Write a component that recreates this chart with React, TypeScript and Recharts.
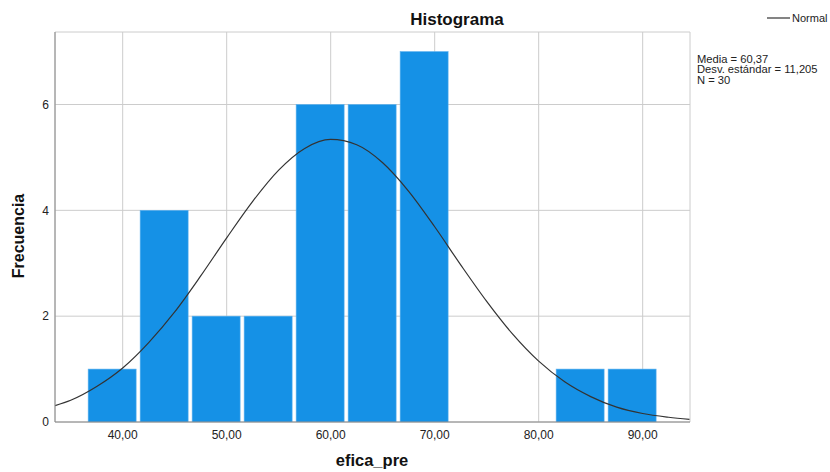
import { ComposedChart, Bar, Line, XAxis, YAxis, CartesianGrid } from 'recharts';

// histogram bins (centre of each 5-unit bin) and their counts
const binCenters = [39, 44, 49, 54, 59, 64, 69, 74, 79, 84, 89];
const counts = [1, 4, 2, 2, 6, 6, 7, 0, 0, 1, 1];

// normal curve
const curveX = [33.5, 35, 37.5, 40, 42.5, 45, 47.5, 50, 52.5, 55, 57.5, 60, 62.5, 65, 67.5, 70, 72.5, 75, 77.5, 80, 82.5, 85, 87.5, 90, 92.5, 94.5];
const curveY = [0.31, 0.41, 0.67, 1.02, 1.5, 2.08, 2.76, 3.48, 4.17, 4.76, 5.17, 5.34, 5.24, 4.9, 4.36, 3.69, 2.97, 2.28, 1.66, 1.15, 0.76, 0.48, 0.28, 0.16, 0.09, 0.05];

const xTicks = [40, 50, 60, 70, 80, 90];
const yTicks = [0, 2, 4, 6];
const statLines = ['Media = 60,37', 'Desv. estándar = 11,205', 'N = 30'];

const bars = binCenters.map((x, i) => ({ x, count: counts[i] }));
const curve = curveX.map((x, i) => ({ x, y: curveY[i] }));

const font = '"Liberation Sans", Arial, sans-serif';
const fmt = (v: number) => v.toFixed(2).replace('.', ',');
const BAR_W = 48;

// recharts squeezes bars on a numeric axis, so draw a fixed-width rect around the bar centre
const HistBar = (props: any) => {
  const { x, y, width, height } = props;
  if (!height || height <= 0) return null;
  const cx = x + width / 2;
  return <rect x={cx - BAR_W / 2} y={y} width={BAR_W} height={height} fill="#1591e6" stroke="#5fb2ee" strokeWidth={0.6} />;
};

const App = () => (
  <div style={{ position: 'absolute', left: 0, top: 0, width: 830, height: 472, fontFamily: font, background: '#fff' }}>
    <ComposedChart width={830} height={472} data={bars} margin={{ top: 32, right: 140, bottom: 20, left: 25 }}>
      <CartesianGrid stroke="#cccccc" strokeWidth={1} />
      <XAxis
        dataKey="x"
        type="number"
        domain={[33.49, 94.55]}
        allowDataOverflow
        ticks={xTicks}
        tickFormatter={fmt}
        height={30}
        tickLine={false}
        axisLine={{ stroke: '#888888' }}
        tick={{ fontSize: 12, fill: '#222', fontFamily: font }}
      />
      <YAxis
        type="number"
        domain={[0, 7.37]}
        allowDataOverflow
        ticks={yTicks}
        width={30}
        tickSize={4}
        tickMargin={2}
        tickLine={false}
        axisLine={{ stroke: '#888888' }}
        tick={{ fontSize: 12, fill: '#222', fontFamily: font }}
      />
      <Bar dataKey="count" fill="#1591e6" shape={HistBar} isAnimationActive={false} />
      <Line data={curve} dataKey="y" type="monotone" stroke="#333333" strokeWidth={1.2} dot={false} isAnimationActive={false} />
    </ComposedChart>
    <svg width={830} height={472} style={{ position: 'absolute', left: 0, top: 0, pointerEvents: 'none' }} fontFamily={font}>
      <text x={457} y={25} textAnchor="middle" fontSize={17} fontWeight="bold" fill="#111">Histograma</text>
      <line x1={767} y1={18} x2={790} y2={18} stroke="#333" strokeWidth={1.2} />
      <text x={792} y={22} fontSize={11} fill="#222">Normal</text>
      {statLines.map((s, i) => (
        <text key={s} x={697} y={62.5 + i * 10.8} fontSize={11.2} fill="#222">{s}</text>
      ))}
      <text x={372} y={466} textAnchor="middle" fontSize={16.5} fontWeight="bold" fill="#111">efica_pre</text>
      <text x={24} y={236} textAnchor="middle" fontSize={16} fontWeight="bold" fill="#111" transform="rotate(-90 24 236)">Frecuencia</text>
    </svg>
  </div>
);

export default App;
